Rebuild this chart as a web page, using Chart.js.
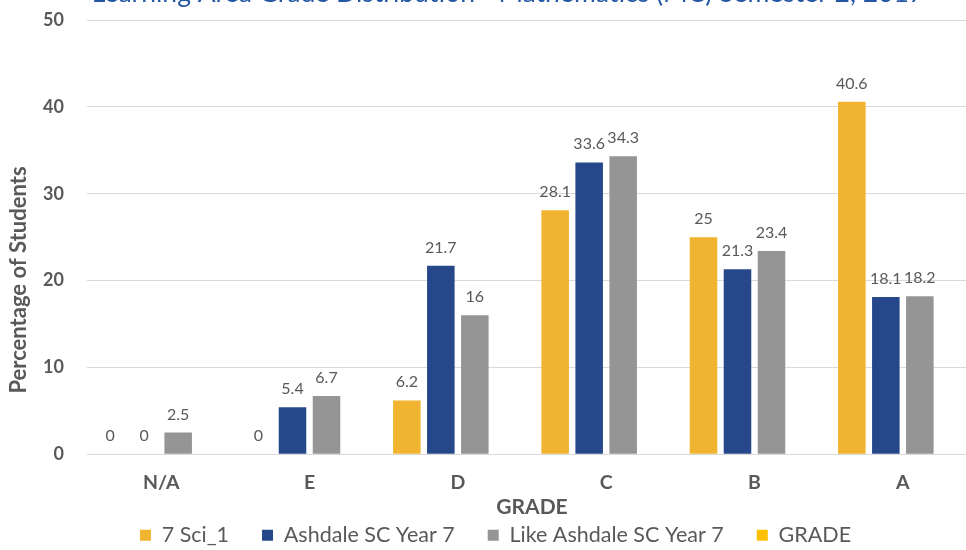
<!DOCTYPE html>
<html>
<head>
<meta charset="utf-8">
<script src="https://cdn.jsdelivr.net/npm/chart.js@4.4.0/dist/chart.umd.min.js"></script>
<style>
html, body { margin: 0; padding: 0; overflow: hidden; background: #fff; }
#wrap { width: 977px; height: 556px; }
canvas { display: block; }
</style>
</head>
<body>
<div id="wrap"><canvas id="myChart" width="977" height="556"></canvas></div>
<script>
// data
const grades = ['N/A', 'E', 'D', 'C', 'B', 'A'];
const sci1 = [0, 0, 6.2, 28.1, 25, 40.6];
const ashdale = [0, 5.4, 21.7, 33.6, 21.3, 18.1];
const likeAshdale = [2.5, 6.7, 16, 34.3, 23.4, 18.2];
const gradeSeries = [null, null, null, null, null, null]; // empty series, only in legend
const yMin = 0, yMax = 50, yStep = 10;

const chartTitle = 'Learning Area Grade Distribution - Mathematics (MC) Semester 2, 2017';
const yTitle = 'Percentage of Students';
const xTitle = 'GRADE';

const grey = '#595959';
Chart.defaults.font.family = 'Lato';

// value labels above bars + titles drawn by hand
const textPlugin = {
    id: 'textPlugin',
    afterDatasetsDraw(chart) {
        const ctx = chart.ctx;
        ctx.save();
        ctx.font = '16px Lato';
        ctx.fillStyle = grey;
        ctx.textAlign = 'center';
        ctx.textBaseline = 'alphabetic';
        chart.data.datasets.forEach((ds, i) => {
            const meta = chart.getDatasetMeta(i);
            meta.data.forEach((bar, j) => {
                const v = ds.data[j];
                if (v === null || v === undefined) return;
                ctx.fillText(String(v), bar.x, bar.y - 13);
            });
        });
        ctx.restore();
    },
    afterDraw(chart) {
        const ctx = chart.ctx;
        const area = chart.chartArea;
        ctx.save();
        // chart title (cut off at top like the reference)
        ctx.font = '26.5px Lato';
        ctx.fillStyle = '#2457A4';
        ctx.textAlign = 'center';
        ctx.textBaseline = 'alphabetic';
        ctx.fillText(chartTitle, 508, 2);
        // x title
        ctx.font = 'bold 21px Lato';
        ctx.fillStyle = grey;
        ctx.textBaseline = 'middle';
        ctx.fillText(xTitle, (area.left + area.right) / 2, 507);
        // y title
        ctx.font = 'bold 22px Lato';
        ctx.translate(19, 280);
        ctx.rotate(-Math.PI / 2);
        ctx.fillText(yTitle, 0, 0);
        ctx.restore();
    }
};

const ctx = document.getElementById('myChart').getContext('2d');
const chart = new Chart(ctx, {
    type: 'bar',
    data: {
        labels: grades,
        datasets: [
            { label: '7 Sci_1', data: sci1, backgroundColor: '#F0B431' },
            { label: 'Ashdale SC Year 7', data: ashdale, backgroundColor: '#26488A' },
            { label: 'Like Ashdale SC Year 7', data: likeAshdale, backgroundColor: '#959595' },
            { label: 'GRADE', data: gradeSeries, backgroundColor: '#FFC000' }
        ]
    },
    options: {
        responsive: false,
        animation: false,
        devicePixelRatio: 1,
        categoryPercentage: 0.917,
        barPercentage: 0.81,
        layout: { padding: { left: 14, top: 20, right: 0, bottom: 0 } },
        plugins: {
            title: { display: false },
            tooltip: { enabled: false },
            legend: {
                position: 'bottom',
                labels: {
                    boxWidth: 11,
                    boxHeight: 11,
                    padding: 33,
                    color: grey,
                    font: { size: 21.5, family: 'Lato' }
                }
            }
        },
        scales: {
            x: {
                grid: { display: false, drawTicks: false },
                border: { display: false },
                ticks: { color: grey, padding: 17, font: { size: 19.5, weight: 'bold' } },
                afterFit(s) { s.height = 37.25; }
            },
            y: {
                min: yMin,
                max: yMax,
                grid: { color: '#D9D9D9', drawTicks: true, tickLength: 23, tickColor: 'rgba(0,0,0,0)' },
                border: { display: false },
                ticks: { stepSize: yStep, color: grey, padding: 0, font: { size: 18, weight: 'bold' } },
                afterFit(s) { s.width = 73; }
            }
        }
    },
    plugins: [textPlugin]
});
</script>
</body>
</html>
